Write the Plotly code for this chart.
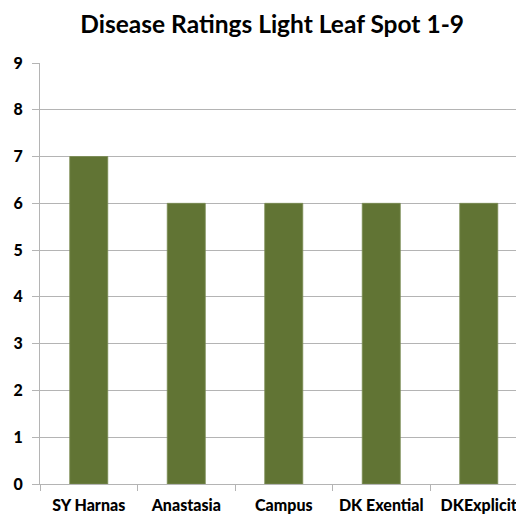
import plotly.graph_objects as go

categories = ["SY Harnas", "Anastasia", "Campus", "DK Exential", "DKExplicit"]
ratings = [7, 6, 6, 6, 6]
y_ticks = [0, 1, 2, 3, 4, 5, 6, 7, 8, 9]

FONT = "Lato"
GRID = "#b4b4b4"

fig = go.Figure(
    go.Bar(
        x=categories,
        y=ratings,
        marker=dict(color="#617434", line=dict(color="#7a8c52", width=0.8)),
    )
)

# page body has a default 8px margin, so the figure is sized/positioned to compensate
fig.update_layout(
    width=516,
    height=509,
    paper_bgcolor="white",
    plot_bgcolor="white",
    margin=dict(l=32, r=0, t=55, b=33, autoexpand=False),
    bargap=0.61,
    showlegend=False,
    title=dict(
        text="<b>Disease Ratings Light Leaf Spot 1-9</b>",
        x=0.512,
        xanchor="center",
        y=0.9686,
        yanchor="middle",
        font=dict(family=FONT, size=24.5, color="black"),
    ),
)

fig.update_xaxes(
    type="category",
    range=[-0.5, 4.464],
    showline=True,
    linecolor=GRID,
    linewidth=1,
    ticks="outside",
    tickson="boundaries",
    ticklen=6,
    tickcolor=GRID,
    showgrid=False,
    tickfont=dict(family=FONT, size=16, color="black", weight=900),
    ticklabelstandoff=7,
)

fig.update_yaxes(
    range=[0, 9],
    tickvals=y_ticks,
    showline=True,
    linecolor=GRID,
    linewidth=1,
    ticks="outside",
    ticklen=7,
    tickcolor=GRID,
    showgrid=True,
    gridcolor=GRID,
    gridwidth=1,
    zeroline=False,
    tickfont=dict(family=FONT, size=16, color="black", weight=900),
    ticklabelstandoff=6,
)

fig.write_html("out.html")
